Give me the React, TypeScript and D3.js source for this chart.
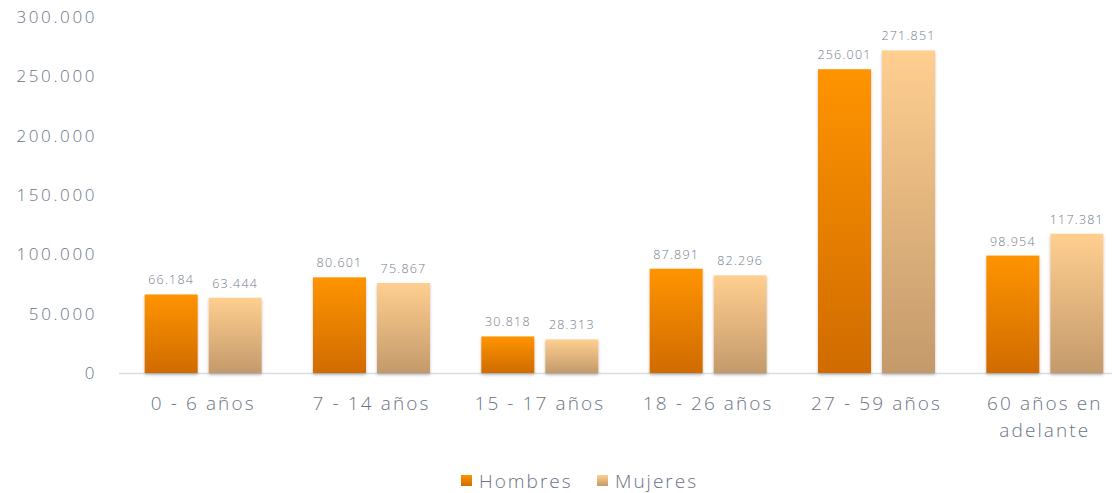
import React from "react";
import * as d3 from "d3";

const categories = ["0 - 6 años", "7 - 14 años", "15 - 17 años", "18 - 26 años", "27 - 59 años", "60 años en adelante"];
const categoryLines = [["0 - 6 años"], ["7 - 14 años"], ["15 - 17 años"], ["18 - 26 años"], ["27 - 59 años"], ["60 años en", "adelante"]];
const series = ["Hombres", "Mujeres"];
const hombres = [66184, 80601, 30818, 87891, 256001, 98954];
const mujeres = [63444, 75867, 28313, 82296, 271851, 117381];
const yTicks = [0, 50000, 100000, 150000, 200000, 250000, 300000];

const W = 1118, H = 493;
const FONT = "'Open Sans', 'Noto Sans', sans-serif";
const TXT = "#6b7385";

const fmt = (v: number) => d3.format(",")(v).replace(/,/g, ".");

export default function App() {
  const band = d3.scaleBand<string>().domain(categories).range([119, 1129]).padding(0);
  const y = d3.scaleLinear().domain([0, 300000]).range([373, 17]);
  const barW = 53;
  const gap = 11;
  const values = [hombres, mujeres];
  const grads = ["gH", "gM"];
  return (
    <svg width={W} height={H} style={{ position: "absolute", left: 0, top: 0, background: "#fff" }}>
      <defs>
        <linearGradient id="gH" x1="0" y1="0" x2="0" y2="1">
          <stop offset="0" stopColor="#ff9400" />
          <stop offset="1" stopColor="#d06b00" />
        </linearGradient>
        <linearGradient id="gM" x1="0" y1="0" x2="0" y2="1">
          <stop offset="0" stopColor="#ffcf90" />
          <stop offset="1" stopColor="#c49a6b" />
        </linearGradient>
        <filter id="sh" x="-20%" y="-10%" width="140%" height="130%">
          <feDropShadow dx="0" dy="2" stdDeviation="1.8" floodColor="#000" floodOpacity="0.25" />
        </filter>
      </defs>
      {yTicks.map((t) => (
        <text key={t} x={97} y={y(t) + 6} textAnchor="end" fontFamily={FONT} fontSize={17} fill={TXT} letterSpacing={2.6} fontWeight={300}>
          {fmt(t)}
        </text>
      ))}
      <line x1={119} x2={1112} y1={y(0) + 0.5} y2={y(0) + 0.5} stroke="#d9dde3" strokeWidth={1.5} />
      {categories.map((c, i) => {
        const cx = (band(c) as number) + band.bandwidth() / 2;
        return (
          <g key={c}>
            {values.map((vals, s) => {
              const bx = s === 0 ? cx - gap / 2 - barW : cx + gap / 2;
              const top = y(vals[i]);
              return (
                <g key={s}>
                  <rect x={bx} y={top} width={barW} height={y(0) - top} fill={`url(#${grads[s]})`} filter="url(#sh)" />
                  <text x={bx + barW / 2} y={top - 10} textAnchor="middle" fontFamily={FONT} fontSize={12.5} fill="#737b8c" letterSpacing={1.2} fontWeight={300}>
                    {fmt(vals[i])}
                  </text>
                </g>
              );
            })}
            {categoryLines[i].map((ln, k) => (
              <text key={k} x={cx} y={410 + k * 27} textAnchor="middle" fontFamily={FONT} fontSize={19} fill={TXT} letterSpacing={2.1} fontWeight={300}>
                {ln}
              </text>
            ))}
          </g>
        );
      })}
      {series.map((s, i) => {
        const lx = i === 0 ? 461 : 597;
        return (
          <g key={s}>
            <rect x={lx} y={475} width={11} height={11} fill={`url(#${grads[i]})`} />
            <text x={lx + 18} y={488} fontFamily={FONT} fontSize={19} fill={TXT} letterSpacing={2} fontWeight={300}>
              {s}
            </text>
          </g>
        );
      })}
    </svg>
  );
}
